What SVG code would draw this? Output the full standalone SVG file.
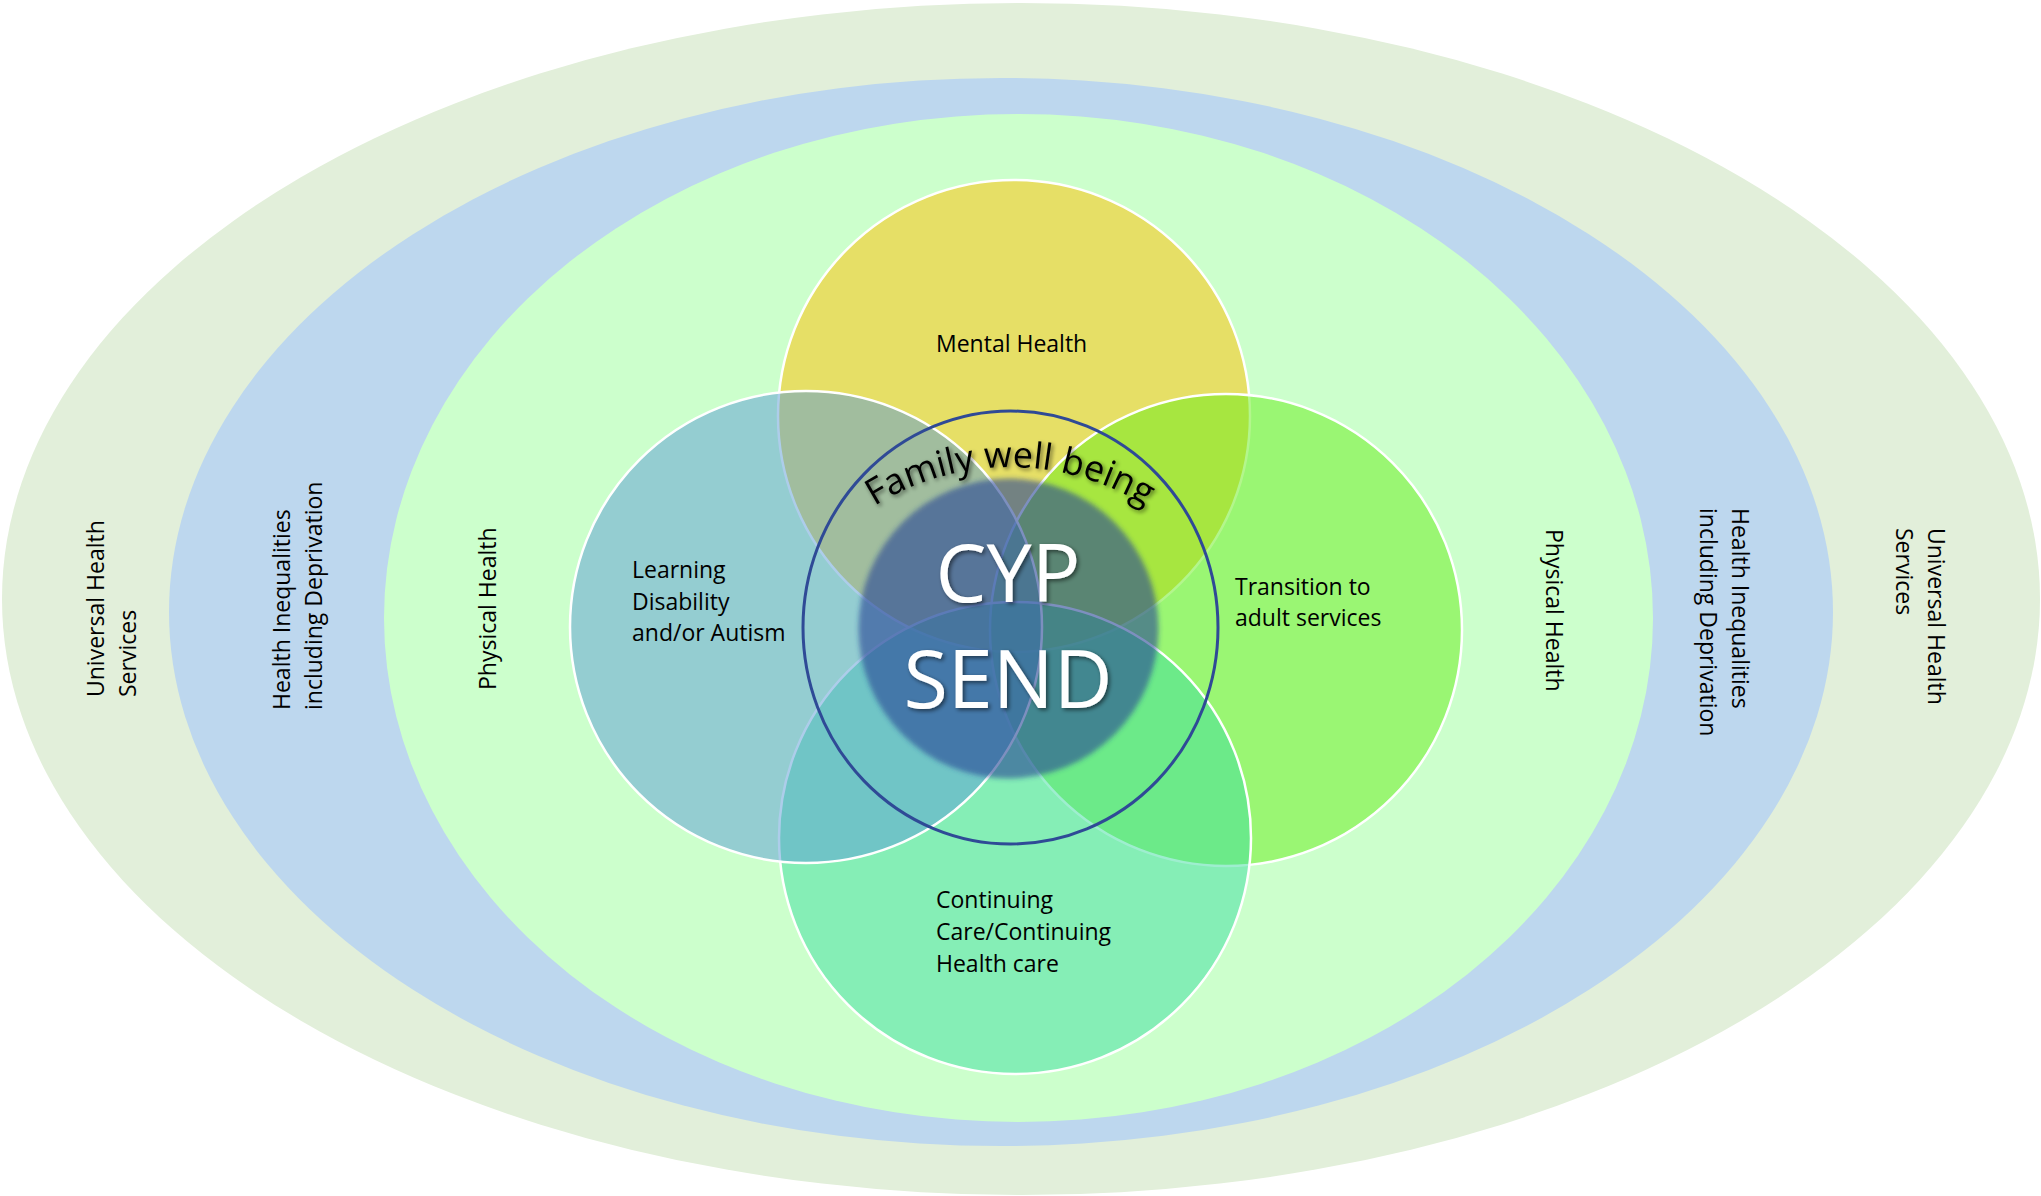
<svg xmlns="http://www.w3.org/2000/svg" width="2041" height="1196" viewBox="0 0 2041 1196">
  <defs>
    <style>
      .lbl { font-family: "Open Sans", "Liberation Sans", sans-serif; font-size: 23px; fill: #000; }
      .venn { stroke: #ffffff; stroke-width: 2.5; }
      .core { font-family: "Open Sans", "Liberation Sans", sans-serif; font-size: 81px; fill: #ffffff; text-anchor: middle; }
      .arc { font-family: "Open Sans", "Liberation Sans", sans-serif; font-size: 36px; fill: #000; }
    </style>
    <filter id="soft" x="-10%" y="-10%" width="120%" height="120%">
      <feGaussianBlur stdDeviation="2.5"/>
    </filter>
    <filter id="shadow" x="-10%" y="-30%" width="120%" height="160%">
      <feGaussianBlur in="SourceAlpha" stdDeviation="2"/>
      <feOffset dx="2" dy="2" result="b"/>
      <feComponentTransfer><feFuncA type="linear" slope="0.55"/></feComponentTransfer>
      <feMerge><feMergeNode/><feMergeNode in="SourceGraphic"/></feMerge>
    </filter>
    <path id="wellArc" d="M 770.4 634.8 A 255 255 0 0 1 1249.6 634.8"/>
  </defs>

  <!-- outer rings -->
  <g id="universal-ring">
    <ellipse cx="1021" cy="599" rx="1019" ry="596" fill="#E2EFDA"/>
  </g>
  <g id="inequalities-ring">
    <ellipse cx="1001" cy="612" rx="832" ry="534" fill="#BDD7EE"/>
  </g>
  <g id="physical-ring">
    <ellipse cx="1018.5" cy="618" rx="634.5" ry="504" fill="#CCFFCC"/>
  </g>

  <!-- ring labels -->
  <g id="universal-label-left" class="lbl">
    <text transform="translate(104,697) rotate(-90)">Universal Health</text>
    <text transform="translate(136,697) rotate(-90)">Services</text>
  </g>
  <g id="inequalities-label-left" class="lbl">
    <text transform="translate(290,710) rotate(-90)">Health Inequalities</text>
    <text transform="translate(322,710) rotate(-90)">including Deprivation</text>
  </g>
  <g id="physical-label-left" class="lbl">
    <text transform="translate(496,690) rotate(-90)">Physical Health</text>
  </g>
  <g id="physical-label-right" class="lbl">
    <text transform="translate(1546,529) rotate(90)">Physical Health</text>
  </g>
  <g id="inequalities-label-right" class="lbl">
    <text transform="translate(1732,508) rotate(90)">Health Inequalities</text>
    <text transform="translate(1700,508) rotate(90)">including Deprivation</text>
  </g>
  <g id="universal-label-right" class="lbl">
    <text transform="translate(1928,528) rotate(90)">Universal Health</text>
    <text transform="translate(1896,528) rotate(90)">Services</text>
  </g>

  <!-- four overlapping circles, drawn clockwise from the top -->
  <g id="mental-health">
    <circle class="venn" cx="1014" cy="416" r="236" fill="rgba(255,192,0,0.5)"/>
  </g>
  <g id="transition">
    <circle class="venn" cx="1226" cy="630" r="236" fill="rgba(104,237,26,0.5)"/>
  </g>
  <g id="continuing-care">
    <circle class="venn" cx="1015" cy="838" r="236" fill="rgba(62,221,160,0.5)"/>
  </g>
  <g id="learning-disability">
    <circle class="venn" cx="806" cy="627" r="236" fill="rgba(91,155,213,0.5)"/>
  </g>

  <g id="venn-labels" class="lbl">
    <text x="936" y="352">Mental Health</text>
    <text x="632" y="578">Learning</text>
    <text x="632" y="610">Disability</text>
    <text x="632" y="641">and/or Autism</text>
    <text x="1235" y="595">Transition to</text>
    <text x="1235" y="626">adult services</text>
    <text x="936" y="908">Continuing</text>
    <text x="936" y="940">Care/Continuing</text>
    <text x="936" y="972">Health care</text>
  </g>

  <!-- family well being ring -->
  <g id="family-well-being">
    <ellipse cx="1010.5" cy="627.5" rx="207.5" ry="216.5" fill="none" stroke="#2F4A96" stroke-width="3"/>
    <text class="arc" filter="url(#shadow)"><textPath href="#wellArc" startOffset="50%" text-anchor="middle">Family well being</textPath></text>
  </g>

  <!-- centre -->
  <g id="cyp-send">
    <circle cx="1008.5" cy="628.5" r="150" fill="rgba(40,70,148,0.6)" filter="url(#soft)"/>
    <text class="core" x="1008" y="602" filter="url(#shadow)">CYP</text>
    <text class="core" x="1008" y="708" filter="url(#shadow)">SEND</text>
  </g>
</svg>
